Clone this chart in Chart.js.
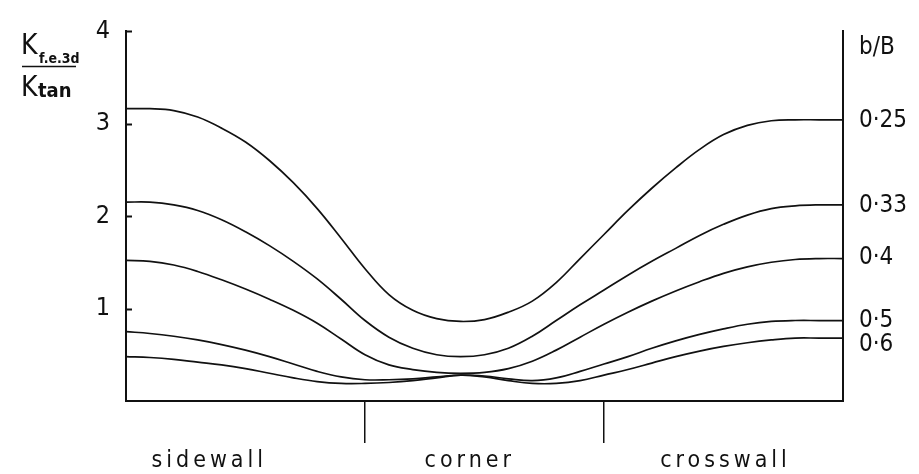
<!DOCTYPE html>
<html>
<head>
<meta charset="utf-8">
<script src="https://cdn.jsdelivr.net/npm/chart.js@4.4.0/dist/chart.umd.min.js"></script>
<style>
  html, body { margin: 0; padding: 0; background: #fff; }
  #wrap { width: 919px; height: 474px; }
</style>
</head>
<body>
<div id="wrap"><canvas id="chart" width="919" height="474"></canvas></div>
<script>
// distance along the wall: 0-1 sidewall, 1-2 corner, 2-3 crosswall
const positions = [0, 0.1, 0.2, 0.3, 0.4, 0.5, 0.6, 0.7, 0.8, 0.9, 1.0, 1.1, 1.2, 1.3, 1.4, 1.5,
    1.6, 1.7, 1.8, 1.9, 2.0, 2.1, 2.2, 2.3, 2.4, 2.5, 2.6, 2.7, 2.8, 2.9, 3.0];

// K(f.e.3d) / K(tan) for each b/B
const ratio025 = [3.16, 3.16, 3.14, 3.07, 2.95, 2.80, 2.60, 2.36, 2.08, 1.76, 1.43, 1.15, 0.98, 0.89, 0.86, 0.88,
    0.96, 1.08, 1.28, 1.54, 1.80, 2.06, 2.30, 2.52, 2.72, 2.88, 2.98, 3.03, 3.04, 3.04, 3.04];
const ratio033 = [2.15, 2.15, 2.12, 2.06, 1.96, 1.83, 1.68, 1.51, 1.32, 1.10, 0.87, 0.69, 0.57, 0.50, 0.48, 0.50,
    0.57, 0.70, 0.87, 1.04, 1.20, 1.36, 1.51, 1.65, 1.79, 1.91, 2.01, 2.08, 2.11, 2.12, 2.12];
const ratio04 = [1.52, 1.51, 1.47, 1.40, 1.31, 1.21, 1.10, 0.98, 0.84, 0.67, 0.50, 0.39, 0.34, 0.31, 0.30, 0.31,
    0.35, 0.43, 0.55, 0.69, 0.83, 0.96, 1.08, 1.19, 1.29, 1.38, 1.45, 1.50, 1.53, 1.54, 1.54];
const ratio05 = [0.75, 0.73, 0.70, 0.66, 0.61, 0.55, 0.48, 0.40, 0.32, 0.26, 0.23, 0.23, 0.24, 0.26, 0.28, 0.27,
    0.24, 0.22, 0.25, 0.32, 0.40, 0.48, 0.57, 0.65, 0.72, 0.78, 0.83, 0.86, 0.87, 0.87, 0.87];
const ratio06 = [0.48, 0.47, 0.45, 0.42, 0.39, 0.35, 0.30, 0.25, 0.21, 0.19, 0.19, 0.20, 0.22, 0.25, 0.28, 0.26,
    0.22, 0.19, 0.19, 0.22, 0.28, 0.34, 0.41, 0.48, 0.54, 0.59, 0.63, 0.66, 0.68, 0.68, 0.68];

const seriesValues = [ratio025, ratio033, ratio04, ratio05, ratio06];
const bBLabels = ['0·25', '0·33', '0·4', '0·5', '0·6'];

// left axis ticks, right axis label positions
const yTicks = [1, 2, 3, 4];
const rightTickValues = [3.82, 3.03, 2.11, 1.55, 0.87, 0.61];
const rightTickText = ['b/B', ...bBLabels];

const sectionNames = ['sidewall', 'corner', 'crosswall'];
const sectionCentres = [0.34, 1.43, 2.5];
const sectionBounds = [1, 2];

const FONT = "'Liberation Sans Narrow', 'DejaVu Sans Condensed', 'Liberation Sans', sans-serif";
const INK = '#111';

const extras = {
    id: 'extras',
    beforeDraw(chart) {
        const ctx = chart.ctx;
        ctx.save();
        ctx.fillStyle = '#fff';
        ctx.fillRect(0, 0, chart.width, chart.height);
        ctx.restore();
    },
    afterDraw(chart) {
        const ctx = chart.ctx;
        const y = chart.scales.y;
        const x = chart.scales.x;
        ctx.save();
        ctx.strokeStyle = INK;
        ctx.fillStyle = INK;

        // inward tick marks on the left axis
        ctx.lineWidth = 2;
        yTicks.forEach(v => {
            const py = Math.round(y.getPixelForValue(v)) + 0.5;
            ctx.beginPath();
            ctx.moveTo(y.right, py);
            ctx.lineTo(y.right + 6, py);
            ctx.stroke();
        });

        // axis title as a fraction
        ctx.textBaseline = 'alphabetic';
        ctx.font = '28px ' + FONT;
        ctx.fillText('K', 21, 54);
        ctx.fillText('K', 21, 96);
        ctx.font = 'bold 14px ' + FONT;
        ctx.fillText('f.e.3d', 39, 63);
        ctx.font = 'bold 20px ' + FONT;
        ctx.fillText('tan', 38, 97);
        ctx.lineWidth = 1.5;
        ctx.beginPath();
        ctx.moveTo(22, 66.5);
        ctx.lineTo(76, 66.5);
        ctx.stroke();

        // section names under the wall positions
        ctx.font = '23px ' + FONT;
        ctx.letterSpacing = '4px';
        ctx.textAlign = 'center';
        sectionNames.forEach((name, i) => {
            ctx.fillText(name, x.getPixelForValue(sectionCentres[i]) + 2, 467);
        });
        ctx.restore();
    }
};

const chart = new Chart(document.getElementById('chart'), {
    type: 'line',
    data: {
        datasets: seriesValues.map((vals, i) => ({
            label: 'b/B = ' + bBLabels[i],
            data: positions.map((p, j) => ({ x: p, y: vals[j] })),
            borderColor: INK,
            borderWidth: 1.7,
            pointRadius: 0,
            fill: false,
            tension: 0.4
        }))
    },
    options: {
        responsive: false,
        animation: false,
        events: [],
        layout: { padding: { top: 20, left: 0, right: 0, bottom: 0 } },
        plugins: {
            legend: { display: false },
            tooltip: { enabled: false }
        },
        scales: {
            x: {
                type: 'linear',
                min: 0,
                max: 3,
                afterBuildTicks: s => { s.ticks = sectionBounds.map(v => ({ value: v })); },
                afterFit: s => { s.height = 73; },
                ticks: { display: false },
                grid: {
                    drawOnChartArea: false,
                    drawTicks: true,
                    tickLength: 42,
                    color: INK,
                    lineWidth: 1.5
                },
                border: { display: true, color: INK, width: 2 }
            },
            y: {
                position: 'left',
                min: 0,
                max: 4,
                afterBuildTicks: s => { s.ticks = yTicks.map(v => ({ value: v })); },
                afterFit: s => { s.width = 126; },
                ticks: {
                    color: INK,
                    padding: 16,
                    font: { family: FONT, size: 25 }
                },
                grid: { display: false, drawTicks: false },
                border: { display: true, color: INK, width: 2 }
            },
            y2: {
                position: 'right',
                min: 0,
                max: 4,
                afterBuildTicks: s => { s.ticks = rightTickValues.map(v => ({ value: v })); },
                afterFit: s => { s.width = 76; },
                ticks: {
                    color: INK,
                    padding: 16,
                    font: { family: FONT, size: 24 },
                    callback: (v, i) => rightTickText[i]
                },
                grid: { display: false, drawTicks: false },
                border: { display: true, color: INK, width: 2 }
            }
        }
    },
    plugins: [extras]
});
</script>
</body>
</html>
